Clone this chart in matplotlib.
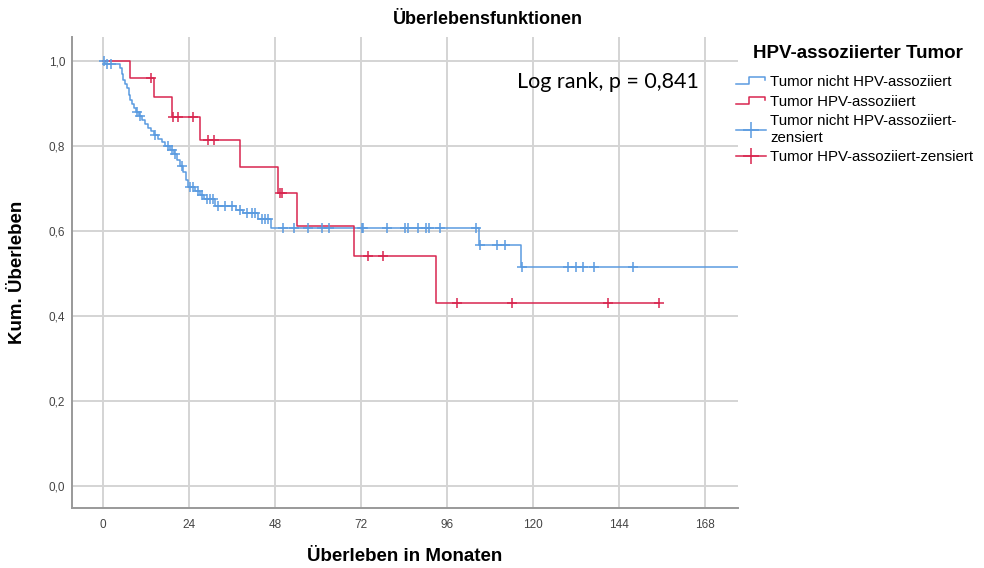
import matplotlib
matplotlib.use("Agg")
import matplotlib.pyplot as plt
from matplotlib.legend_handler import HandlerBase
from matplotlib.lines import Line2D
import numpy as np

plt.rcParams["font.family"] = ["Liberation Sans", "DejaVu Sans"]

# ---------------------------------------------------------------------
#  Data (months / cumulative survival)
# ---------------------------------------------------------------------
blue_times = [0.6, 4.7, 5.3, 5.6, 6.1, 6.7, 7.3, 7.5, 8.1, 8.7,
              9.2, 10.0, 10.9, 11.7, 12.6, 13.4, 14.2, 15.3, 16.5, 17.3,
              18.7, 19.8, 20.7, 21.5, 22.3, 23.2, 23.7, 25.7, 27.1, 28.2,
              31.3, 37.1, 39.1, 43.3, 46.9, 104.9, 116.7]
blue_surv = [0.993, 0.984, 0.969, 0.955, 0.946, 0.936, 0.920, 0.908, 0.899, 0.889,
             0.880, 0.871, 0.861, 0.852, 0.842, 0.835, 0.826, 0.816, 0.809, 0.800,
             0.791, 0.781, 0.767, 0.753, 0.739, 0.720, 0.704, 0.694, 0.685, 0.675,
             0.659, 0.649, 0.642, 0.627, 0.607, 0.567, 0.516]
blue_censored = [0.2, 1.0, 2.2, 9.4, 10.3, 14.5, 18.2, 19.2, 20.1, 22.0,
                 24.3, 25.2, 26.6, 27.5, 28.9, 29.9, 30.7, 32.2, 34.0, 35.9,
                 38.2, 40.1, 41.5, 42.4, 44.3, 45.2, 46.1, 50.3, 53.3, 57.2,
                 61.1, 63.1, 72.2, 72.6, 79.2, 84.3, 85.0, 88.0, 90.1, 91.1,
                 94.1, 104.1, 105.2, 110.0, 112.2, 117.0, 129.9, 132.0, 134.0,
                 137.0, 148.0]
blue_followup_end = 180.0

red_times = [7.5, 14.3, 19.2, 27.1, 38.2, 48.9, 54.2, 70.0, 92.9]
red_surv = [0.959, 0.914, 0.868, 0.814, 0.751, 0.689, 0.612, 0.540, 0.431]
red_censored = [13.3, 19.5, 21.0, 25.2, 29.2, 31.1, 49.3, 50.0, 74.0, 78.1,
                98.9, 114.1, 141.0, 155.2]
red_followup_end = 155.2

x_ticks = [0, 24, 48, 72, 96, 120, 144, 168]
y_ticks = [0.0, 0.2, 0.4, 0.6, 0.8, 1.0]

legend_labels = ["Tumor nicht HPV-assoziiert", "Tumor HPV-assoziiert",
                 "Tumor nicht HPV-assoziiert-\nzensiert", "Tumor HPV-assoziiert-zensiert"]

BLUE = "#5b9be0"
RED = "#d8264f"


def step_xy(times, surv, end):
    xs = [0.0] + list(times) + [end]
    ys = [1.0] + list(surv) + [surv[-1]]
    return xs, ys


def level_at(times, surv, t):
    levels = np.r_[1.0, surv]
    idx = np.searchsorted(times, t, side="right")
    return levels[idx]


class StepHandler(HandlerBase):
    """Legend icon shaped like a small survival step."""
    def create_artists(self, legend, orig_handle, xdescent, ydescent,
                       width, height, fontsize, trans):
        x0 = -xdescent
        y0 = -ydescent
        xs = [x0, x0 + 0.42 * width, x0 + 0.42 * width, x0 + 0.95 * width, x0 + 0.95 * width]
        ys = [y0 + 0.15 * height, y0 + 0.15 * height, y0 + 0.85 * height,
              y0 + 0.85 * height, y0 + 0.55 * height]
        ln = Line2D(xs, ys, color=orig_handle.get_color(),
                    linewidth=orig_handle.get_linewidth(), transform=trans)
        return [ln]


fig = plt.figure(figsize=(9.84, 5.68), dpi=100)
ax = fig.add_axes([72 / 984, 1 - 508 / 568, (738 - 72) / 984, (508 - 37) / 568])

# grid
for xt in x_ticks:
    ax.axvline(xt, color="#d4d4d4", linewidth=1.4, zorder=0)
for yt in y_ticks:
    ax.axhline(yt, color="#d4d4d4", linewidth=1.4, zorder=0)

# curves
bx, by = step_xy(blue_times, blue_surv, blue_followup_end)
rx, ry = step_xy(red_times, red_surv, red_followup_end)
blue_line, = ax.step(bx, by, where="post", color=BLUE, linewidth=1.1, zorder=3)
red_line, = ax.step(rx, ry, where="post", color=RED, linewidth=1.1, zorder=3)

# censoring marks
bc = np.array(blue_censored)
rc = np.array(red_censored)
ax.plot(bc, level_at(blue_times, blue_surv, bc), linestyle="none",
        marker="+", markersize=7, markeredgewidth=1.1, color=BLUE, zorder=4)
ax.plot(rc, level_at(red_times, red_surv, rc), linestyle="none",
        marker="+", markersize=7, markeredgewidth=1.1, color=RED, zorder=4)

ax.set_xlim(-8.65, 177.2)
ax.set_ylim(-0.052, 1.056)
ax.set_xticks(x_ticks)
ax.set_yticks(y_ticks)
ax.set_yticklabels([f"{v:.1f}".replace(".", ",") for v in y_ticks])
ax.tick_params(length=0, labelsize=8.5, labelcolor="#444444")
ax.tick_params(axis="x", pad=8)
ax.tick_params(axis="y", pad=5)
for side in ("top", "right"):
    ax.spines[side].set_visible(False)
for side in ("left", "bottom"):
    ax.spines[side].set_color("#999999")
    ax.spines[side].set_linewidth(1.4)

ax.set_xlabel("Überleben in Monaten", fontsize=13.5, fontweight="bold", labelpad=12)
ax.set_ylabel("Kum. Überleben", fontsize=13.5, fontweight="bold", labelpad=16)

fig.text(488 / 984, 1 - 20 / 568, "Überlebensfunktionen", ha="center", va="center",
         fontsize=13, fontweight="bold")
fig.text(517 / 984, 1 - 82 / 568, "Log rank, p = 0,841", ha="left", va="center",
         fontsize=15.5, family=["Lato", "DejaVu Sans"])

# legend: title as its own text, entries below
fig.text(858 / 984, 1 - 53 / 568, "HPV-assoziierter Tumor", ha="center", va="center",
         fontsize=13.5, fontweight="bold")
blue_cens_h = Line2D([], [], color=BLUE, linewidth=1.1, marker="+",
                     markersize=11, markeredgewidth=1.1)
red_cens_h = Line2D([], [], color=RED, linewidth=1.1, marker="+",
                    markersize=11, markeredgewidth=1.1)
fig.legend([blue_line, red_line, blue_cens_h, red_cens_h], legend_labels,
           handler_map={blue_line: StepHandler(), red_line: StepHandler()},
           loc="upper left", bbox_to_anchor=(736 / 984, 1 - 75 / 568),
           frameon=False, fontsize=10.8, handlelength=2.0, handletextpad=0.3,
           labelspacing=0.38, borderpad=0.0, borderaxespad=0.0)

fig.savefig("out.png", dpi=100)
